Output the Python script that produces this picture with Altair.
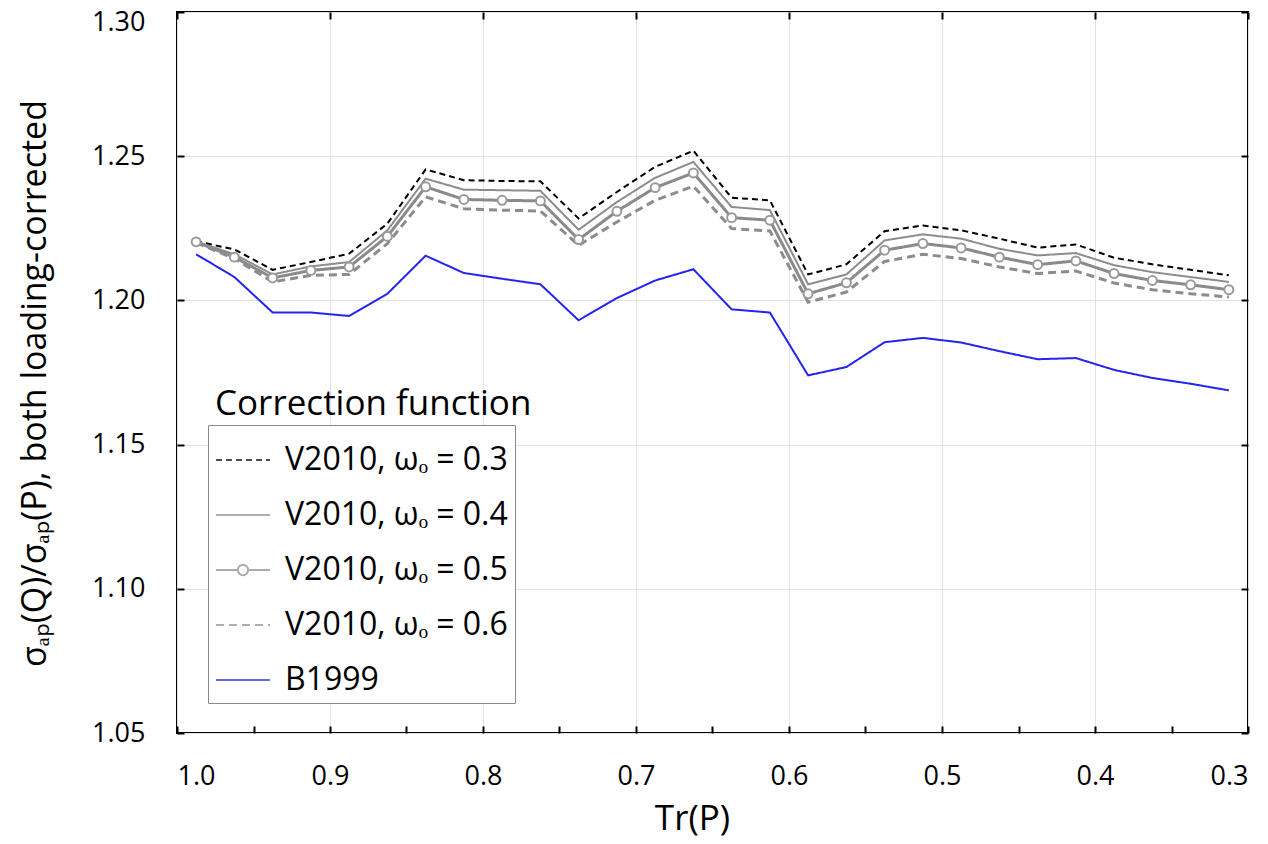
import altair as alt
import pandas as pd

# Tr(P) bin centres (x) and ratio values
tr = [0.9875, 0.9625, 0.9375, 0.9125, 0.8875, 0.8625, 0.8375, 0.8125, 0.7875, 0.7625,
      0.7375, 0.7125, 0.6875, 0.6625, 0.6375, 0.6125, 0.5875, 0.5625, 0.5375, 0.5125,
      0.4875, 0.4625, 0.4375, 0.4125, 0.3875, 0.3625, 0.3375, 0.3125]

v2010_03 = [1.2205, 1.2177, 1.2106, 1.2133, 1.2162, 1.2266, 1.2454, 1.2417, 1.2414, 1.2413,
            1.2284, 1.2376, 1.2463, 1.2519, 1.2356, 1.2347, 1.2090, 1.2125, 1.2240, 1.2260,
            1.2243, 1.2214, 1.2183, 1.2194, 1.2148, 1.2125, 1.2106, 1.2087]
v2010_04 = [1.2204, 1.2160, 1.2090, 1.2118, 1.2133, 1.2243, 1.2422, 1.2384, 1.2382, 1.2380,
            1.2245, 1.2341, 1.2425, 1.2480, 1.2324, 1.2313, 1.2056, 1.2090, 1.2208, 1.2229,
            1.2214, 1.2179, 1.2156, 1.2164, 1.2122, 1.2098, 1.2081, 1.2064]
v2010_05 = [1.2203, 1.2150, 1.2078, 1.2104, 1.2116, 1.2222, 1.2394, 1.2350, 1.2347, 1.2345,
            1.2211, 1.2309, 1.2391, 1.2442, 1.2287, 1.2278, 1.2023, 1.2061, 1.2174, 1.2197,
            1.2182, 1.2150, 1.2124, 1.2137, 1.2093, 1.2069, 1.2054, 1.2037]
v2010_06 = [1.2200, 1.2145, 1.2064, 1.2087, 1.2090, 1.2197, 1.2359, 1.2318, 1.2313, 1.2310,
            1.2191, 1.2272, 1.2347, 1.2396, 1.2249, 1.2241, 1.1994, 1.2029, 1.2135, 1.2160,
            1.2145, 1.2116, 1.2093, 1.2102, 1.2060, 1.2037, 1.2023, 1.2012]
b1999 = [1.2160, 1.2081, 1.1958, 1.1958, 1.1946, 1.2023, 1.2155, 1.2095, 1.2075, 1.2056,
         1.1931, 1.2008, 1.2069, 1.2108, 1.1969, 1.1958, 1.1740, 1.1769, 1.1855, 1.1870,
         1.1854, 1.1824, 1.1796, 1.1800, 1.1759, 1.1731, 1.1711, 1.1688]

series = ["V2010, ωₒ = 0.3", "V2010, ωₒ = 0.4", "V2010, ωₒ = 0.5", "V2010, ωₒ = 0.6", "B1999"]
values = [v2010_03, v2010_04, v2010_05, v2010_06, b1999]
colors = ["#000000", "#8c8c8c", "#8a8a8a", "#8c8c8c", "#2424ee"]
dashes = [[6, 4], [1, 0], [1, 0], [8, 5], [1, 0]]
widths = [2, 2, 3, 3, 2]

x_ticks = [1.0, 0.95, 0.9, 0.85, 0.8, 0.75, 0.7, 0.65, 0.6, 0.55, 0.5, 0.45, 0.4, 0.35, 0.3]
x_major = [1.0, 0.9, 0.8, 0.7, 0.6, 0.5, 0.4, 0.3]
y_ticks = [1.05, 1.10, 1.15, 1.20, 1.25, 1.30]

legend_title = "Correction function"
x_title = "Tr(P)"
y_title = "σₐₚ(Q)/σₐₚ(P), both loading-corrected"

# legend glyphs: plain line, or line with an open circle in the middle
LINE = "M-1,0L1,0"
LINE_CIRCLE = ("M-1,0L-0.19,0M0.19,0L1,0M0.19,0A0.19,0.19,0,1,1,-0.19,0"
               "A0.19,0.19,0,1,1,0.19,0Z")
shapes = [LINE, LINE, LINE_CIRCLE, LINE, LINE]

FONT = "Open Sans"
TICK = 7  # inward tick length (axes are pulled in by the same amount)

df = pd.DataFrame(
    [{"tr": t, "ratio": v, "series": s} for s, vals in zip(series, values) for t, v in zip(tr, vals)]
)

x_scale = alt.Scale(domain=[0.3, 1.0], reverse=True, nice=False, zero=False)
y_scale = alt.Scale(domain=[1.05, 1.30], nice=False, zero=False)

major_test = "abs(round(datum.value * 100) % 10) < 0.5"

tick_style = dict(domain=False, tickColor="black", tickWidth=2, tickSize=TICK, offset=-TICK)

x_axis = alt.Axis(
    orient="bottom",
    values=x_ticks,
    labelExpr=f"{major_test} ? format(datum.value, '.1f') : ''",
    grid=True,
    gridColor="#e2e2e2",
    gridOpacity={"condition": {"test": major_test, "value": 1}, "value": 0},
    labelFont=FONT,
    labelFontSize=27,
    labelColor="black",
    labelPadding=30,
    title=x_title,
    titleFont=FONT,
    titleFontSize=35,
    titleFontWeight="normal",
    titleColor="black",
    titleBaseline="alphabetic",
    titleX=515,
    titleY=103,
    **tick_style,
)
y_axis = alt.Axis(
    orient="left",
    values=y_ticks,
    format=".2f",
    grid=True,
    gridColor="#e2e2e2",
    labelFont=FONT,
    labelFontSize=27,
    labelColor="black",
    labelPadding=32,
    labelOffset={"condition": {"test": "datum.value > 1.29", "value": 10}, "value": 0},
    title=y_title,
    titleFont=FONT,
    titleFontSize=34,
    titleFontWeight="normal",
    titleColor="black",
    titleBaseline="alphabetic",
    titleAngle=270,
    titleX=-139,
    titleY=371,
    **tick_style,
)
x_top = alt.Axis(orient="top", values=x_major, labels=False, grid=False, title=None, **tick_style)
y_right = alt.Axis(orient="right", values=y_ticks, labels=False, grid=False, title=None, **tick_style)

base = alt.Chart(df)

layers = []
for i, (name, col, dash, w) in enumerate(zip(series, colors, dashes, widths)):
    layers.append(
        base.transform_filter(alt.datum.series == name)
        .mark_line(color=col, strokeDash=dash, strokeWidth=w)
        .encode(
            x=alt.X("tr:Q", scale=x_scale, axis=x_axis if i == 0 else None),
            y=alt.Y("ratio:Q", scale=y_scale, axis=y_axis if i == 0 else None),
        )
    )

points = (
    base.transform_filter(alt.datum.series == series[2])
    .mark_point(shape="circle", filled=True, fill="white", stroke="#9a9a9a", strokeWidth=2,
                size=80, opacity=1)
    .encode(
        x=alt.X("tr:Q", scale=x_scale, axis=x_top),
        y=alt.Y("ratio:Q", scale=y_scale, axis=y_right),
    )
)

legend_layer = (
    base.transform_filter("false")
    .mark_point(filled=False, size=2916, strokeWidth=2)
    .encode(
        x=alt.X("tr:Q", scale=x_scale, axis=None),
        y=alt.Y("ratio:Q", scale=y_scale, axis=None),
        color=alt.Color(
            "series:N",
            scale=alt.Scale(domain=series, range=colors),
            legend=alt.Legend(
                title=None,
                orient="none",
                legendX=31,
                legendY=413,
                labelFont=FONT,
                labelFontSize=32,
                labelColor="black",
                labelLimit=400,
                labelOffset=14,
                symbolSize=2916,
                symbolStrokeWidth=2,
                symbolFillColor="white",
                rowPadding=11,
                padding=7,
                strokeColor="#8a8a8a",
                fillColor="white",
            ),
        ),
        strokeDash=alt.StrokeDash("series:N", scale=alt.Scale(domain=series, range=dashes),
                                  legend=alt.Legend(title=None)),
        shape=alt.Shape("series:N", scale=alt.Scale(domain=series, range=shapes),
                        legend=alt.Legend(title=None)),
    )
)

title_text = (
    alt.Chart(pd.DataFrame({"t": [legend_title]}))
    .mark_text(align="left", baseline="alphabetic", font=FONT, fontSize=35, color="black")
    .encode(text="t:N", x=alt.value(38), y=alt.value(403))
)

chart = (
    alt.layer(*layers, points, legend_layer, title_text)
    .resolve_axis(x="independent", y="independent")
    .properties(
        width=1071,
        height=721,
        autosize=alt.AutoSizeParams(type="none"),
        padding={"left": 169, "top": 4, "right": 12, "bottom": 110},
    )
    .configure_view(stroke="black", strokeWidth=2)
)

chart.save("out.html", embed_options={"renderer": "svg", "actions": False})
